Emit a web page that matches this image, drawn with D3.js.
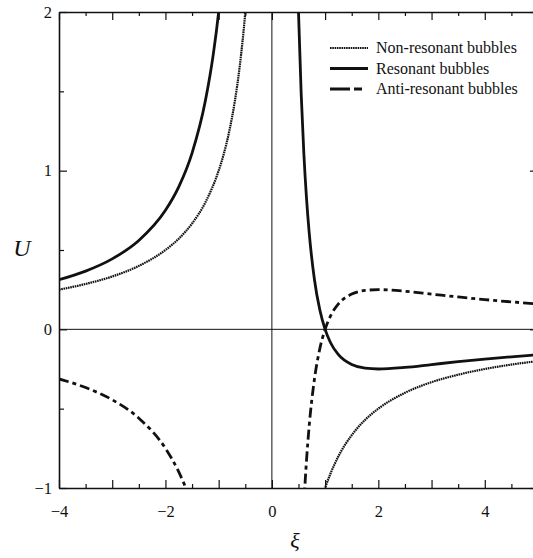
<!DOCTYPE html>
<meta charset="utf-8">
<script src="https://cdn.jsdelivr.net/npm/d3@7"></script>
<style>
  body { margin: 0; background: #fff; }
  svg { display: block; }
  text { font-family: "Liberation Serif", "Times New Roman", serif; fill: #111; }
</style>
<div id="my_dataviz"></div>

<script>
// curve values, as [xi, U] pairs
var nonResLeft = [[-4,0.25],[-3.5,0.286],[-3,0.333],[-2.5,0.4],[-2,0.5],[-1.75,0.571],[-1.5,0.667],[-1.25,0.8],[-1,1.0],[-0.9,1.11],[-0.8,1.25],[-0.7,1.43],[-0.6,1.67],[-0.5,2.0],[-0.45,2.22]];
var nonResRight = [[0.95,-1.05],[1,-1],[1.1,-0.91],[1.25,-0.8],[1.5,-0.667],[1.75,-0.571],[2,-0.5],[2.5,-0.4],[3,-0.333],[3.5,-0.286],[4,-0.25],[4.5,-0.222],[5,-0.2],[5.2,-0.192]];
var resLeft = [[-4,0.3125],[-3.5,0.367],[-3,0.444],[-2.5,0.56],[-2,0.75],[-1.75,0.898],[-1.5,1.111],[-1.25,1.44],[-1.1,1.736],[-1,2.0],[-0.95,2.16]];
var resRight = [[0.48,2.26],[0.5,2.0],[0.55,1.488],[0.6,1.111],[0.65,0.828],[0.7,0.612],[0.8,0.3125],[0.9,0.123],[1,0],[1.1,-0.083],[1.25,-0.16],[1.5,-0.222],[1.75,-0.245],[2,-0.25],[2.5,-0.24],[3,-0.222],[3.5,-0.204],[4,-0.1875],[4.5,-0.173],[5,-0.16],[5.2,-0.155]];
var antiLeft = [[-4,-0.3125],[-3.5,-0.367],[-3,-0.444],[-2.5,-0.56],[-2,-0.75],[-1.75,-0.898],[-1.62,-0.998],[-1.55,-1.061]];
var antiRight = [[0.6,-1.111],[0.62,-0.988],[0.65,-0.828],[0.7,-0.612],[0.8,-0.3125],[0.9,-0.123],[1,0],[1.1,0.083],[1.25,0.16],[1.5,0.222],[1.75,0.245],[2,0.25],[2.5,0.24],[3,0.222],[3.5,0.204],[4,0.1875],[4.5,0.173],[5,0.16],[5.2,0.155]];

var xTicks = d3.range(-4, 5.01, 0.5);
var xLabels = [-4, -2, 0, 2, 4];
var yTicks = d3.range(-1, 2.01, 0.5);
var yLabels = [-1, 0, 1, 2];

var legendNames = ["Non-resonant bubbles", "Resonant bubbles", "Anti-resonant bubbles"];

// set the dimensions and margins of the graph
var W = 533, H = 558;
var margin = {top: 12, left: 59};
var width = 479, height = 476;

var svg = d3.select("#my_dataviz")
  .append("svg")
    .attr("width", W)
    .attr("height", H)
  .append("g")
    .attr("transform", "translate(" + margin.left + "," + margin.top + ")");

var x = d3.scaleLinear().domain([-4, 5]).range([0, width]);
var y = d3.scaleLinear().domain([-1, 2]).range([height, 0]);

svg.append("clipPath").attr("id", "clip")
  .append("rect").attr("width", width).attr("height", height);

var isMajor = function(v) { return Math.abs(v - Math.round(v)) < 1e-6; };

// bottom axis
var xAxis = svg.append("g")
  .attr("transform", "translate(0," + height + ")")
  .call(d3.axisBottom(x).tickValues(xTicks).tickSizeInner(-8).tickSizeOuter(0).tickPadding(17)
    .tickFormat(function(d) { return xLabels.indexOf(d) >= 0 ? d3.format("")(d) : ""; }));
xAxis.selectAll(".tick line").attr("y2", function(d) { return isMajor(d) ? -8 : -4; });

// top axis
var xTop = svg.append("g")
  .call(d3.axisTop(x).tickValues(xTicks).tickSizeOuter(0).tickFormat(""));
xTop.selectAll(".tick line").attr("y2", function(d) { return isMajor(d) ? 8 : 4; });

// left axis
var yAxis = svg.append("g")
  .call(d3.axisLeft(y).tickValues(yTicks).tickSizeInner(-8).tickSizeOuter(0).tickPadding(7)
    .tickFormat(function(d) { return yLabels.indexOf(d) >= 0 ? d3.format("")(d) : ""; }));
yAxis.selectAll(".tick line").attr("x2", function(d) { return isMajor(d) ? 8 : 5; });

// right axis (falls just outside the picture)
var yRight = svg.append("g")
  .attr("transform", "translate(" + width + ",0)")
  .call(d3.axisRight(y).tickValues(yTicks).tickSizeOuter(0).tickFormat(""));
yRight.selectAll(".tick line").attr("x2", function(d) { return isMajor(d) ? -8 : -5; });

svg.selectAll(".domain").attr("stroke", "#111").attr("stroke-width", 1.6);
svg.selectAll(".tick line").attr("stroke", "#111").attr("stroke-width", 1.2);
svg.selectAll(".tick text").style("font-size", "16.5px").attr("fill", "#111");

// zero lines
svg.append("line")
  .attr("x1", 0).attr("x2", width).attr("y1", y(0)).attr("y2", y(0))
  .attr("stroke", "#111").attr("stroke-width", 1);
svg.append("line")
  .attr("x1", x(0)).attr("x2", x(0)).attr("y1", 0).attr("y2", height)
  .attr("stroke", "#111").attr("stroke-width", 1);

var line = d3.line()
  .x(function(d) { return x(d[0]); })
  .y(function(d) { return y(d[1]); })
  .curve(d3.curveMonotoneX);

var styles = [
  {w: 2.2, dash: "1.6,0.7"},
  {w: 2.8, dash: null},
  {w: 2.8, dash: "10,4,4,4"}
];

var curves = svg.append("g").attr("clip-path", "url(#clip)");
function draw(data, s) {
  curves.append("path")
    .datum(data)
    .attr("fill", "none")
    .attr("stroke", "#111")
    .attr("stroke-width", s.w)
    .attr("stroke-dasharray", s.dash)
    .attr("d", line);
}
draw(nonResLeft, styles[0]);
draw(nonResRight, styles[0]);
draw(resLeft, styles[1]);
draw(resRight, styles[1]);
draw(antiLeft, styles[2]);
draw(antiRight, styles[2]);

// legend
var legend = svg.append("g").attr("transform", "translate(" + (330 - margin.left) + "," + (48 - margin.top) + ")");
legendNames.forEach(function(name, i) {
  var s = styles[i];
  legend.append("line")
    .attr("x1", 0).attr("x2", 38).attr("y1", i * 20.5).attr("y2", i * 20.5)
    .attr("stroke", "#111").attr("stroke-width", s.w)
    .attr("stroke-dasharray", i === 2 ? "20,4,8,100" : s.dash);
  legend.append("text")
    .attr("x", 46).attr("y", i * 20.5).attr("dy", "0.33em")
    .style("font-size", "16px")
    .text(name);
});

// axis titles
svg.append("text")
  .attr("x", 22 - margin.left).attr("y", 248 - margin.top).attr("dy", "0.35em")
  .attr("text-anchor", "middle")
  .style("font-size", "24px").style("font-style", "italic")
  .text("U");
svg.append("text")
  .attr("x", 295 - margin.left).attr("y", 540 - margin.top).attr("dy", "0.35em")
  .attr("text-anchor", "middle")
  .style("font-size", "22px").style("font-style", "italic")
  .text("ξ");
</script>
